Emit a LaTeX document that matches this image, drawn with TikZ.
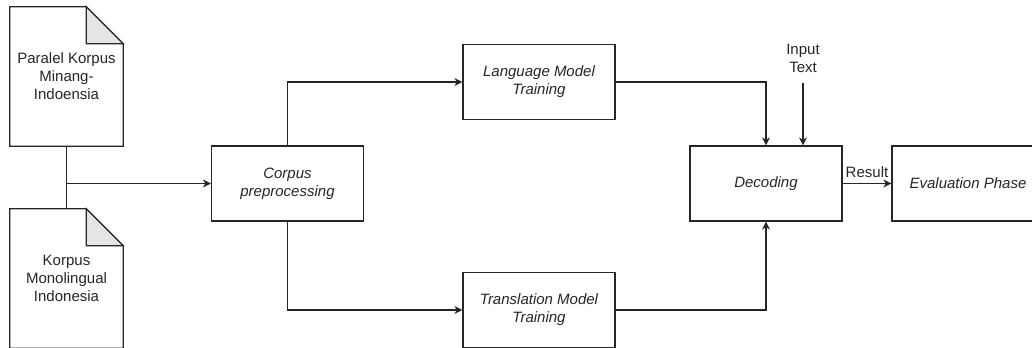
\documentclass[tikz,border=0pt]{standalone}
\usepackage{fontspec}
\setmainfont{Liberation Sans}
\usetikzlibrary{arrows.meta,calc}
\begin{document}
\begin{tikzpicture}[x=0.75pt,y=-0.75pt,
  every node/.style={font=\fontsize{11.25pt}{13.5pt}\selectfont, text=black!85},
  ln/.style={line width=0.9pt, draw=black!85},
  arr/.style={ln, -{Stealth[length=6pt,width=6pt,inset=1.8pt]}},
  box/.style={draw=black!85, line width=0.9pt, minimum width=114pt, minimum height=56.25pt, inner sep=0pt, align=center, font=\fontsize{11.25pt}{13.5pt}\selectfont\itshape},
  doc/.style={minimum width=84.75pt, minimum height=104.25pt, inner sep=0pt, align=center},
  lbl/.style={align=center, inner sep=0pt}]
\useasboundingbox (0,0) rectangle (1032,347);
\clip (0,0) rectangle (1032,347);

% documents
\node[doc] (d1) at (66.5,76.5) {Paralel Korpus\\Minang-\\Indoensia};
\node[doc] (d2) at (66.5,278.5) {Korpus\\Monolingual\\Indonesia};
\foreach \d in {d1,d2}{
  \draw[ln] (\d.north west) -- ($(\d.north east)+(-37,0)$) -- ($(\d.north east)+(0,37)$) -- (\d.south east) -- (\d.south west) -- cycle;
  \filldraw[ln, fill=black!10] ($(\d.north east)+(-37,0)$) -- ($(\d.north east)+(-37,37)$) -- ($(\d.north east)+(0,37)$) -- cycle;
}

% process boxes
\node[box] (cp) at (287.5,183.5) {Corpus\\preprocessing};
\node[box] (lm) at (539,82) {Language Model\\Training};
\node[box] (tm) at (539,310) {Translation Model\\Training};
\node[box] (dec) at (766,183.5) {Decoding};
\node[box] (ev) at (968,183.5) {Evaluation Phase};

% labels
\node[lbl] (it) at (803,58.5) {Input\\Text};
\coordinate (it0) at (803,83);
\node[lbl] (res) at (867,172) {Result};

% connectors
\draw[ln] (d1.south) -- (d2.north);
\coordinate (J) at (66.5,183.5);
\draw[arr] (J) -- (cp.west);
\draw[arr] (cp.north) |- (lm.west);
\draw[arr] (cp.south) |- (tm.west);
\draw[arr] (lm.east) -| (dec.north);
\draw[arr] (tm.east) -| (dec.south);
\draw[arr] (it0) -- (it0 |- dec.north);
\draw[arr] (dec.east) -- (ev.west);
\end{tikzpicture}
\end{document}
